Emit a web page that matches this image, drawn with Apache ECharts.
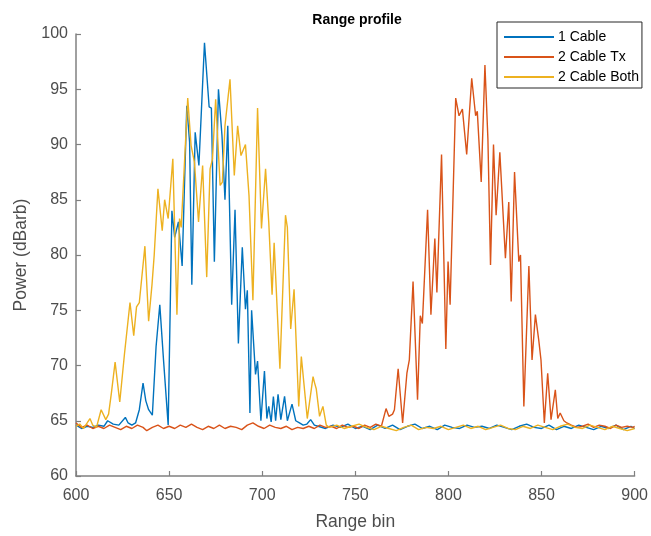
<!DOCTYPE html>
<html lang="en">
<head>
<meta charset="UTF-8">
<title>Range profile</title>
<script src="https://cdn.jsdelivr.net/npm/echarts@6.0.0/dist/echarts.min.js"></script>
<style>
  html, body { margin: 0; padding: 0; background: #fff; }
  #chart { width: 651px; height: 536px; }
</style>
</head>
<body>
<div id="chart"></div>
<script>
// range bins and power (dBarb), one pair of arrays per trace
const cable1Bins = [600, 603, 606, 609, 612, 615, 617, 620, 623, 626.5, 628, 630, 632, 634, 636, 637.5, 639, 641, 643, 645, 647, 649.5, 651.5, 653, 655, 657, 659.5, 661, 662.2, 664, 666, 669, 671.5, 672.7, 674.3, 676.5, 678.4, 680, 681.5, 683.6, 685.4, 687.2, 689.3, 691, 692, 693.4, 694.3, 696.4, 697.5, 699.3, 701.2, 702.5, 703.5, 704.8, 706, 707.2, 708.5, 710, 712, 713.5, 716, 718, 720, 722, 724, 726, 728, 730, 734, 738, 742, 746, 750, 754, 758, 762, 766, 770, 774, 778, 782, 786, 790, 794, 798, 802, 806, 810, 814, 818, 822, 826, 830, 834, 838, 842, 846, 850, 854, 858, 862, 866, 870, 874, 878, 882, 886, 890, 894, 898, 900]
const cable1Power = [64.6, 64.3, 64.5, 64.4, 64.6, 64.5, 65.0, 64.7, 64.6, 65.3, 64.8, 64.6, 64.8, 66.0, 68.4, 66.8, 66.0, 65.5, 71.7, 75.5, 70.5, 64.6, 84.0, 81.6, 83.0, 79.0, 93.5, 90.2, 77.3, 91.1, 88.1, 99.2, 93.4, 93.3, 79.4, 95.0, 90.8, 85.0, 91.7, 75.5, 84.1, 72.0, 80.7, 75.1, 76.8, 65.7, 75.0, 69.2, 70.4, 65.0, 69.5, 65.2, 66.3, 64.9, 67.2, 65.0, 67.4, 65.1, 67.2, 65.0, 66.5, 65.0, 64.8, 64.6, 64.7, 65.1, 64.6, 64.5, 64.3, 64.6, 64.4, 64.7, 64.3, 64.5, 64.2, 64.6, 64.3, 64.6, 64.2, 64.5, 64.7, 64.3, 64.5, 64.2, 64.6, 64.4, 64.3, 64.6, 64.4, 64.5, 64.3, 64.6, 64.4, 64.2, 64.5, 64.7, 64.4, 64.3, 64.6, 64.2, 64.5, 64.3, 64.6, 64.4, 64.2, 64.5, 64.3, 64.6, 64.2, 64.5, 64.3]

const cable2TxBins = [600, 603, 606, 609, 612, 615, 618, 621, 624, 627, 630, 633, 636, 638, 641, 644, 647, 650, 653, 656, 659, 662, 665, 668, 671, 674, 677, 680, 683, 686, 689, 692, 695, 698, 701, 704, 707, 710, 713, 716, 719, 722, 725, 728, 731, 734, 737, 740, 743, 746, 749, 752, 755, 758, 761, 764, 766.5, 768, 770, 771, 773, 775.4, 777.7, 779, 781, 783.4, 784.9, 786, 788.8, 790.6, 792.7, 793.8, 796.3, 798.6, 799.8, 800.9, 803.9, 805.7, 807.5, 809.8, 812.5, 814.6, 815.5, 817.6, 819.6, 821.2, 822.6, 824.2, 825.6, 827.6, 830.6, 832.4, 833.7, 835.5, 837.8, 838.7, 840.5, 843.2, 844.9, 846.7, 848.5, 849.7, 851.5, 853.3, 855.1, 857.4, 858.7, 860, 862, 863.6, 866, 869, 872, 875, 878, 881, 884, 887, 890, 893, 896, 899, 900]
const cable2TxPower = [64.8, 64.4, 64.6, 64.3, 64.5, 64.3, 64.6, 64.4, 64.2, 64.5, 64.3, 64.6, 64.4, 64.1, 64.4, 64.6, 64.3, 64.5, 64.3, 64.6, 64.4, 64.7, 64.4, 64.2, 64.5, 64.3, 64.6, 64.3, 64.5, 64.4, 64.2, 64.6, 64.8, 64.5, 64.3, 64.6, 64.4, 64.3, 64.5, 64.2, 64.4, 64.3, 64.5, 64.3, 64.6, 64.4, 64.5, 64.3, 64.6, 64.4, 64.5, 64.3, 64.6, 64.4, 64.7, 64.5, 66.1, 65.4, 65.6, 66.0, 69.7, 64.8, 69.3, 70.5, 77.6, 66.9, 74.5, 73.8, 84.1, 74.6, 81.5, 76.6, 89.1, 71.5, 79.4, 75.5, 94.2, 92.6, 93.2, 89.1, 96.0, 92.6, 93.0, 86.6, 97.2, 90.5, 79.1, 90.0, 83.6, 89.3, 79.7, 84.8, 75.8, 87.5, 79.4, 80.0, 66.3, 79.0, 70.5, 74.6, 72.3, 70.5, 64.8, 69.3, 65.1, 67.8, 65.2, 65.7, 65.0, 64.8, 64.6, 64.4, 64.5, 64.7, 64.4, 64.6, 64.5, 64.3, 64.6, 64.4, 64.5, 64.4, 64.5]

const cable2BothBins = [600, 602, 604, 606, 607.5, 609, 611, 613.5, 616, 617.5, 619, 621, 623.5, 626, 629, 631, 632.5, 634, 637, 639, 640.8, 642, 644, 646.3, 647.6, 649.5, 652, 654.2, 655.6, 656.5, 658, 660, 661.8, 663.6, 665.8, 668, 670.2, 672, 673.3, 675, 677.4, 678.6, 680, 682.7, 685, 686.8, 688.6, 691, 692.9, 695, 697.5, 699.6, 701.8, 703.5, 705.3, 706.4, 709.5, 712.5, 713.5, 715.3, 717.1, 719.6, 721, 724.2, 727.3, 728, 729, 730.8, 732.6, 734.4, 736, 740, 744, 748, 752, 756, 760, 764, 768, 772, 776, 780, 784, 788, 792, 796, 800, 804, 808, 812, 816, 820, 824, 828, 832, 836, 840, 844, 848, 852, 856, 860, 864, 868, 872, 876, 880, 884, 888, 892, 896, 900]
const cable2BothPower = [64.5, 64.7, 64.3, 64.8, 65.2, 64.6, 64.4, 66.0, 65.1, 65.6, 67.5, 70.3, 66.7, 71.0, 75.7, 72.7, 75.3, 75.7, 80.8, 74.0, 77.3, 80.0, 86.0, 82.2, 85.0, 83.3, 88.7, 74.6, 83.3, 82.5, 87.5, 94.2, 89.9, 88.4, 83.0, 88.1, 78.0, 87.8, 88.7, 94.1, 86.3, 86.6, 91.7, 95.9, 87.2, 91.7, 89.0, 90.0, 85.4, 75.9, 93.3, 82.4, 87.8, 83.0, 76.4, 81.1, 69.7, 83.6, 82.5, 73.3, 76.9, 66.3, 70.8, 65.2, 69.0, 68.5, 67.9, 65.4, 66.3, 64.6, 64.4, 64.6, 64.3, 64.5, 64.7, 64.4, 64.2, 64.5, 64.3, 64.1, 64.4, 64.6, 64.2, 64.4, 64.3, 64.5, 64.2, 64.4, 64.6, 64.3, 64.5, 64.2, 64.4, 64.6, 64.3, 64.2, 64.5, 64.3, 64.6, 64.4, 64.2, 64.5, 64.7, 64.4, 64.3, 64.6, 64.4, 64.2, 64.5, 64.3, 64.1, 64.3]

const seriesNames = ['1 Cable', '2 Cable Tx', '2 Cable Both']
const seriesColors = ['#0072BD', '#D95319', '#EDB120']

const pairs = (xs, ys) => xs.map((x, i) => [x, ys[i]])

const fontFamily = 'Liberation Sans, Arial, Helvetica, sans-serif'
const labelGray = '#4d4d4d'
const axisGray = '#808080'

const myChart = echarts.init(document.getElementById('chart'))

const lineSeries = (name, color, data) => ({
  name: name,
  type: 'line',
  data: data,
  symbol: 'none',
  animation: false,
  lineStyle: { color: color, width: 1.4 },
  itemStyle: { color: color },
})

const option = {
  backgroundColor: '#fff',
  textStyle: { fontFamily: fontFamily },
  title: {
    text: 'Range profile',
    left: 352,
    top: 8,
    textAlign: 'center',
    textStyle: { fontSize: 14, fontWeight: 'bold', color: '#000', fontFamily: fontFamily },
  },
  legend: {
    data: seriesNames,
    orient: 'vertical',
    left: 497,
    top: 22,
    padding: [8, 3, 4, 6],
    itemGap: 6,
    itemWidth: 50,
    itemHeight: 14,
    backgroundColor: '#fff',
    borderColor: '#262626',
    borderWidth: 1,
    borderRadius: 0,
    itemStyle: { opacity: 0 },
    textStyle: { fontSize: 14, color: '#000', fontFamily: fontFamily, padding: [0, 0, 0, -1] },
  },
  grid: { left: 76, right: 13, top: 34, bottom: 57, containLabel: false },
  xAxis: {
    type: 'value',
    min: 600,
    max: 900,
    interval: 50,
    name: 'Range bin',
    nameLocation: 'middle',
    nameGap: 37,
    nameTextStyle: { fontSize: 17.5, color: labelGray },
    axisLine: { show: true, lineStyle: { color: axisGray, width: 1.5 } },
    axisTick: { show: true, inside: true, length: 5, lineStyle: { color: axisGray, width: 1.2 } },
    axisLabel: { fontSize: 16, color: labelGray, margin: 12 },
    splitLine: { show: false },
  },
  yAxis: {
    type: 'value',
    min: 60,
    max: 100,
    interval: 5,
    name: 'Power (dBarb)',
    nameLocation: 'middle',
    nameGap: 42,
    nameTextStyle: { fontSize: 17.5, color: labelGray },
    axisLine: { show: true, lineStyle: { color: axisGray, width: 1.5 } },
    axisTick: { show: true, inside: true, length: 5, lineStyle: { color: axisGray, width: 1.2 } },
    axisLabel: { fontSize: 16, color: labelGray, margin: 8 },
    splitLine: { show: false },
  },
  series: [
    lineSeries(seriesNames[0], seriesColors[0], pairs(cable1Bins, cable1Power)),
    lineSeries(seriesNames[1], seriesColors[1], pairs(cable2TxBins, cable2TxPower)),
    lineSeries(seriesNames[2], seriesColors[2], pairs(cable2BothBins, cable2BothPower)),
  ],
}

myChart.setOption(option)
</script>
</body>
</html>
